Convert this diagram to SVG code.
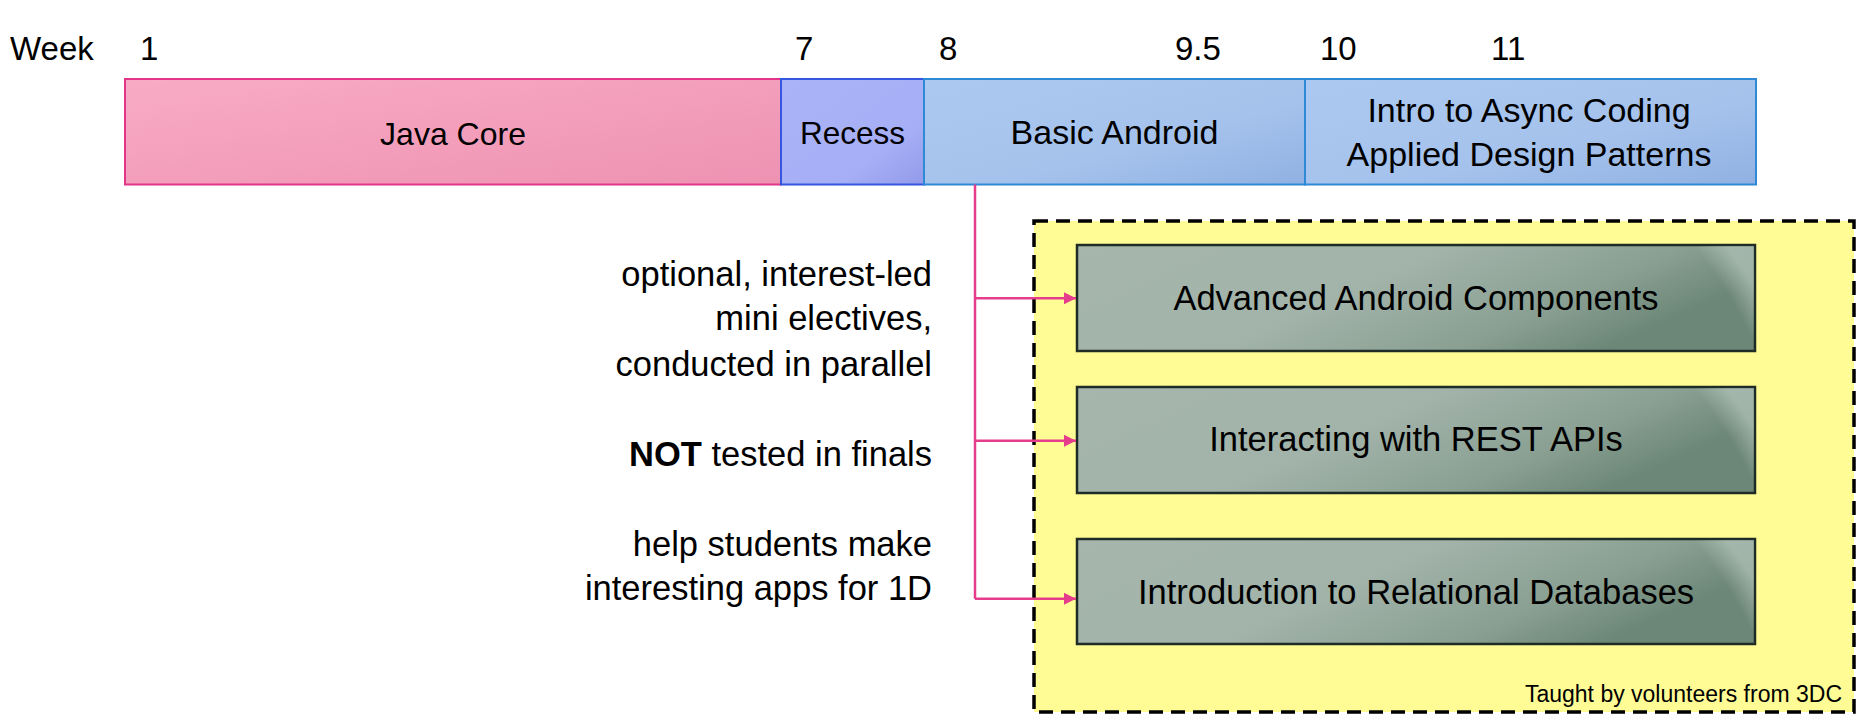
<svg xmlns="http://www.w3.org/2000/svg" width="1866" height="724" viewBox="0 0 1866 724">
  <defs>
    <style>
      text { font-family: "Liberation Sans", Arial, sans-serif; fill: #000; }
      .lbl { font-size: 33px; }
      .note { font-size: 34.5px; text-anchor: end; }
      .blbl { font-size: 34.5px; text-anchor: middle; }
      .mid { text-anchor: middle; }
      .small { font-size: 23px; text-anchor: end; }
      .conn { stroke: #e63c8c; stroke-width: 2.5; fill: none; }
      .gbox { fill: url(#gGreen); stroke: #1f2b25; stroke-width: 2.5; }
      .ghi { fill: url(#gHi); }
    </style>
    <linearGradient id="gPink" x1="0" y1="0" x2="1" y2="1">
      <stop offset="0" stop-color="#f8abc5"/>
      <stop offset="1" stop-color="#ee92b2"/>
    </linearGradient>
    <linearGradient id="gRecess" x1="0" y1="0" x2="1" y2="1">
      <stop offset="0" stop-color="#abb3f8"/>
      <stop offset="0.7" stop-color="#a6aef5"/>
      <stop offset="1" stop-color="#939aea"/>
    </linearGradient>
    <linearGradient id="gBlue" x1="0" y1="0" x2="1" y2="1">
      <stop offset="0" stop-color="#acc9f1"/>
      <stop offset="0.6" stop-color="#a5c2ec"/>
      <stop offset="1" stop-color="#90b1e2"/>
    </linearGradient>
    <linearGradient id="gGreen" x1="0" y1="0" x2="1" y2="0.35">
      <stop offset="0" stop-color="#a6b6ad"/>
      <stop offset="0.5" stop-color="#a2b3a9"/>
      <stop offset="0.8" stop-color="#8aa093"/>
      <stop offset="1" stop-color="#6c8777"/>
    </linearGradient>
    <radialGradient id="gHi" gradientUnits="userSpaceOnUse" cx="300" cy="268" r="440">
      <stop offset="0" stop-color="#b0c1b7" stop-opacity="0"/>
      <stop offset="0.94" stop-color="#b0c1b7" stop-opacity="0"/>
      <stop offset="1" stop-color="#b0c1b7" stop-opacity="0.75"/>
    </radialGradient>
    <marker id="arr" viewBox="0 0 10 10" refX="10" refY="5" markerWidth="5" markerHeight="5" orient="auto" markerUnits="strokeWidth">
      <path d="M0,0 L10,5 L0,10 Z" fill="#e63c8c"/>
    </marker>
  </defs>

  <rect width="1866" height="724" fill="#ffffff"/>

  <g id="weeks" class="lbl">
    <text x="10" y="60">Week</text>
    <text x="140" y="60">1</text>
    <text x="795" y="60">7</text>
    <text x="939" y="60">8</text>
    <text x="1175" y="60">9.5</text>
    <text x="1320" y="60">10</text>
    <text x="1491" y="60">11</text>
  </g>

  <g id="java-core">
    <rect x="125" y="79" width="656" height="105.5" fill="url(#gPink)" stroke="#e2358a" stroke-width="2"/>
    <text class="mid" font-size="32" x="453" y="145">Java Core</text>
  </g>
  <g id="recess">
    <rect x="781" y="79" width="143" height="105.5" fill="url(#gRecess)" stroke="#3656e2" stroke-width="2"/>
    <text class="mid" font-size="31.5" x="852.5" y="144">Recess</text>
  </g>
  <g id="basic-android">
    <rect x="924" y="79" width="381" height="105.5" fill="url(#gBlue)" stroke="#2f8ad6" stroke-width="2"/>
    <text class="mid" font-size="34" x="1114.5" y="144">Basic Android</text>
  </g>
  <g id="async">
    <rect x="1305" y="79" width="451" height="105.5" fill="url(#gBlue)" stroke="#2f8ad6" stroke-width="2"/>
    <text class="mid" font-size="34" x="1529" y="122">Intro to Async Coding</text>
    <text class="mid" font-size="34" x="1529" y="166">Applied Design Patterns</text>
  </g>

  <g id="notes">
    <text class="note" x="932" y="286">optional, interest-led</text>
    <text class="note" x="932" y="330">mini electives,</text>
    <text class="note" x="932" y="376">conducted in parallel</text>
    <text class="note" x="932" y="466"><tspan font-weight="bold">NOT</tspan> tested in finals</text>
    <text class="note" x="932" y="556">help students make</text>
    <text class="note" x="932" y="600">interesting apps for 1D</text>
  </g>

  <g id="electives-group">
    <rect x="1034" y="221" width="820" height="491" fill="#fffc96" stroke="#000" stroke-width="3.5" stroke-dasharray="14 8"/>
    <text class="small" x="1842" y="702">Taught by volunteers from 3DC</text>
  </g>

  <g id="advanced-android" transform="translate(1077,245)">
    <rect class="gbox" x="0" y="0" width="678" height="106"/>
    <rect class="ghi" x="1.25" y="1.25" width="675.5" height="103.5"/>
    <text class="blbl" x="339" y="65">Advanced Android Components</text>
  </g>
  <g id="rest-apis" transform="translate(1077,387)">
    <rect class="gbox" x="0" y="0" width="678" height="106"/>
    <rect class="ghi" x="1.25" y="1.25" width="675.5" height="103.5"/>
    <text class="blbl" x="339" y="64">Interacting with REST APIs</text>
  </g>
  <g id="relational-db" transform="translate(1077,539)">
    <rect class="gbox" x="0" y="0" width="678" height="105"/>
    <rect class="ghi" x="1.25" y="1.25" width="675.5" height="102.5"/>
    <text class="blbl" x="339" y="65">Introduction to Relational Databases</text>
  </g>

  <g id="connectors">
    <path class="conn" d="M975,184.5 V598.7"/>
    <path class="conn" d="M975,298.3 H1076" marker-end="url(#arr)"/>
    <path class="conn" d="M975,440.7 H1076" marker-end="url(#arr)"/>
    <path class="conn" d="M975,598.7 H1076" marker-end="url(#arr)"/>
  </g>
</svg>
